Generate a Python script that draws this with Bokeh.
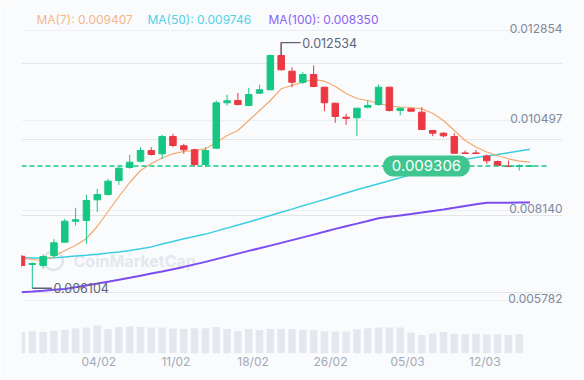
from bokeh.plotting import figure
from bokeh.models import Range1d, FixedTicker, Grid, Label, ColumnDataSource
from bokeh.core.properties import value
from bokeh.embed import file_html
from bokeh.resources import INLINE

# ---------------- data ----------------
open_ = [0.0069429, 0.0067255, 0.0066993, 0.0069613, 0.0073096, 0.0078596, 0.0078779, 0.0084200, 0.0085588, 0.0089255,
         0.0092660, 0.0094309, 0.0097112, 0.0096247, 0.0100779, 0.0098343, 0.0097295, 0.0093445, 0.0097714, 0.0109605,
         0.0110207, 0.0108898, 0.0112119, 0.0113009, 0.0121993, 0.0117881, 0.0114999, 0.0117016, 0.0113689, 0.0109500,
         0.0105833, 0.0105676, 0.0108452, 0.0109159, 0.0113689, 0.0107588, 0.0108033, 0.0107143, 0.0102350, 0.0101643,
         0.0100779, 0.0096483, 0.0096483, 0.0095672, 0.0094231, 0.0093053, 0.0092922, 0.0093000]
high = [0.0069796, 0.0067779, 0.0069874, 0.0073881, 0.0079224, 0.0082105, 0.0085510, 0.0087081, 0.0089700, 0.0092738,
        0.0095986, 0.0097976, 0.0097976, 0.0101224, 0.0101486, 0.0098867, 0.0097557, 0.0097976, 0.0110207, 0.0111700,
        0.0112224, 0.0113532, 0.0114318, 0.0122254, 0.0125340, 0.0118929, 0.0117618, 0.0119374, 0.0113800, 0.0109600,
        0.0106723, 0.0108190, 0.0110207, 0.0114397, 0.0113750, 0.0108300, 0.0108100, 0.0108452, 0.0102400, 0.0101905,
        0.0101643, 0.0097112, 0.0097295, 0.0096064, 0.0094493, 0.0094493, 0.0093445, 0.0093200]
low = [0.0066548, 0.0061040, 0.0066208, 0.0069167, 0.0072939, 0.0077470, 0.0072677, 0.0080953, 0.0085327, 0.0088129,
       0.0092319, 0.0094048, 0.0095803, 0.0094938, 0.0097976, 0.0096247, 0.0092922, 0.0092738, 0.0097557, 0.0108898,
       0.0108898, 0.0108715, 0.0111962, 0.0112900, 0.0118064, 0.0113689, 0.0114580, 0.0113689, 0.0107404, 0.0104367,
       0.0103843, 0.0100857, 0.0108190, 0.0108820, 0.0107326, 0.0106334, 0.0107326, 0.0102550, 0.0100857, 0.0100597,
       0.0096247, 0.0096247, 0.0096247, 0.0093577, 0.0092922, 0.0092738, 0.0091874, 0.0092900]
close = [0.0066993, 0.0067517, 0.0069351, 0.0072939, 0.0078596, 0.0078962, 0.0084017, 0.0085588, 0.0089072, 0.0092476,
         0.0094048, 0.0097112, 0.0096064, 0.0100779, 0.0098422, 0.0097295, 0.0093445, 0.0097112, 0.0109605, 0.0110129,
         0.0109159, 0.0111778, 0.0113009, 0.0121993, 0.0118247, 0.0114999, 0.0117016, 0.0113874, 0.0109605, 0.0106017,
         0.0105493, 0.0108190, 0.0108898, 0.0113689, 0.0107588, 0.0108190, 0.0107404, 0.0102612, 0.0101643, 0.0100962,
         0.0096405, 0.0096326, 0.0096326, 0.0094415, 0.0093184, 0.0092922, 0.0093105, 0.0093060]
ma7 = [0.0069010, 0.0068565, 0.0068303, 0.0069351, 0.0070922, 0.0072231, 0.0074065, 0.0077208, 0.0081136, 0.0085065,
       0.0088731, 0.0091874, 0.0093707, 0.0095148, 0.0096248, 0.0096850, 0.0097112, 0.0097557, 0.0099207, 0.0101040,
       0.0102350, 0.0104969, 0.0107588, 0.0110207, 0.0113271, 0.0114135, 0.0115000, 0.0115707, 0.0115262, 0.0113874,
       0.0112040, 0.0110731, 0.0110207, 0.0109421, 0.0108767, 0.0108505, 0.0108374, 0.0108033, 0.0106881, 0.0104969,
       0.0102350, 0.0099731, 0.0098029, 0.0096719, 0.0095802, 0.0094938, 0.0094310, 0.0094070]
ma50 = [0.0069010, 0.0068958, 0.0068932, 0.0069036, 0.0069220, 0.0069455, 0.0069691, 0.0069953, 0.0070241, 0.0070555,
        0.0070948, 0.0071393, 0.0071865, 0.0072598, 0.0073305, 0.0074012, 0.0074562, 0.0075217, 0.0076003, 0.0076789,
        0.0077600, 0.0078386, 0.0079224, 0.0080088, 0.0080927, 0.0081765, 0.0082629, 0.0083467, 0.0084279, 0.0085117,
        0.0085981, 0.0086819, 0.0087605, 0.0088391, 0.0089203, 0.0089988, 0.0090800, 0.0091612, 0.0092424, 0.0093236,
        0.0093995, 0.0094755, 0.0095253, 0.0095672, 0.0096091, 0.0096536, 0.0096955, 0.0097460]
ma100 = [0.0060001, 0.0060184, 0.0060394, 0.0060656, 0.0060865, 0.0061284, 0.0061782, 0.0062253, 0.0062751, 0.0063248,
         0.0063772, 0.0064322, 0.0064872, 0.0065422, 0.0066024, 0.0066627, 0.0067282, 0.0067936, 0.0068670, 0.0069377,
         0.0070110, 0.0070817, 0.0071498, 0.0072205, 0.0072912, 0.0073646, 0.0074353, 0.0075086, 0.0075820, 0.0076579,
         0.0077286, 0.0077967, 0.0078648, 0.0079355, 0.0079748, 0.0080115, 0.0080455, 0.0080848, 0.0081267, 0.0081660,
         0.0082105, 0.0082577, 0.0083048, 0.0083415, 0.0083415, 0.0083441, 0.0083467, 0.0083500]
volume = [58, 60, 58, 61, 63, 68, 70, 75, 66, 71, 73, 71, 70, 70, 67, 66, 68, 68, 71, 66, 60, 66, 63, 66,
          66, 66, 63, 63, 60, 59, 59, 65, 68, 70, 70, 70, 56, 50, 54, 58, 53, 52, 53, 51, 51, 50, 52]
price_ticks = [0.012854, 0.010497, 0.008140, 0.005782]
date_labels = ["04/02", "11/02", "18/02", "26/02", "05/03", "12/03"]
date_ticks = [7.14, 14.27, 21.4, 28.56, 35.68, 42.82]

# ---------------- layout / styling ----------------
BG = "#fafbfd"
GREEN = "#16c784"
RED = "#ea3943"
FONT = "Inter"
W, H = 584, 380
LEFT, RIGHT, TOP, BOTTOM = 21, 22, 0, 27
FRAME_W, FRAME_H = W - LEFT - RIGHT, H - TOP - BOTTOM
X_START, X_END = 0, 50
Y_START, Y_END = 0.0043946, 0.0136397
VOL_END = 948


def sx(px):   # screen x (from figure left) -> data x
    return X_START + (px - LEFT) * (X_END - X_START) / FRAME_W


def sy(py):   # screen y (from figure top) -> data y
    return Y_END - (py - TOP) * (Y_END - Y_START) / FRAME_H


idx = list(range(len(close)))
colors = [GREEN if c >= o else RED for o, c in zip(open_, close)]
src = ColumnDataSource(dict(
    x=idx, open=open_, close=close, high=high, low=low,
    top=[max(o, c) for o, c in zip(open_, close)],
    bottom=[min(o, c) for o, c in zip(open_, close)],
    color=colors, ma7=ma7, ma50=ma50, ma100=ma100))

p = figure(width=W, height=H, output_backend="svg", toolbar_location=None,
           x_range=Range1d(X_START, X_END), y_range=Range1d(Y_START, Y_END),
           y_axis_location=None, min_border_left=LEFT, min_border_right=RIGHT,
           min_border_top=TOP, min_border_bottom=BOTTOM,
           background_fill_color=BG, border_fill_color=BG, outline_line_color=None)
p.extra_y_ranges = {"vol": Range1d(0, VOL_END)}

p.xgrid.visible = False
p.add_layout(Grid(dimension=1, ticker=FixedTicker(ticks=price_ticks),
                  grid_line_color="#eceff3", grid_line_width=1))

# x axis with dates
ax = p.xaxis[0]
ax.ticker = FixedTicker(ticks=date_ticks)
ax.major_label_overrides = {t: l for t, l in zip(date_ticks, date_labels)}
ax.axis_line_color = None
ax.major_tick_line_color = None
ax.minor_tick_line_color = None
ax.major_tick_out = 0
ax.major_tick_in = 0
ax.major_label_standoff = 0
ax.major_label_text_font = FONT
ax.major_label_text_font_size = "12px"
ax.major_label_text_color = "#a3a9b5"

# watermark
p.text(x=[sx(73)], y=[sy(260)], text=["CoinMarketCap"], text_align="left", text_baseline="middle",
       text_font=value(FONT), text_font_size="16px", text_font_style="bold",
       text_color="#e1e5eb", text_alpha=0.9)
p.scatter(x=[sx(53)], y=[sy(260)], size=19, marker="circle", fill_alpha=0,
          line_color="#e1e5eb", line_width=2.5)

# volume
p.vbar(x=idx[:len(volume)], top=volume, bottom=0, width=0.69, y_range_name="vol",
       fill_color="#e4e8ee", line_color=None)

# MA lines
p.line("x", "ma100", source=src, line_color="#7b4cf0", line_width=2)
p.line("x", "ma50", source=src, line_color="#3ccfe2", line_width=1.5)
p.line("x", "ma7", source=src, line_color="#f3a96a", line_width=1.2)

# candles
p.segment(x0="x", x1="x", y0="low", y1="high", source=src, line_color="color", line_width=1)
p.vbar(x="x", top="top", bottom="bottom", width=0.6, source=src,
       fill_color="color", line_color="color", line_width=1)

# current price dashed line
last = close[-1]
p.segment(x0=[X_START], x1=[sx(547)], y0=[last], y1=[last],
          line_color=GREEN, line_width=1.6, line_dash="5 3")

# high / low annotations
hi_i = max(idx, key=lambda i: high[i])
lo_i = min(idx, key=lambda i: low[i])
CONN = "#5b6577"
p.line(x=[hi_i, hi_i, hi_i + 1.8], y=[open_[hi_i], high[hi_i], high[hi_i]], line_color=CONN, line_width=1.3)
p.text(x=[hi_i + 1.95], y=[high[hi_i]], text=[f"{high[hi_i]:.6f}"], text_align="left",
       text_baseline="middle", text_font=value(FONT), text_font_size="12.5px", text_color=CONN)
p.line(x=[lo_i, lo_i + 1.8], y=[low[lo_i], low[lo_i]], line_color=CONN, line_width=1.3)
p.text(x=[lo_i + 1.95], y=[low[lo_i]], text=[f"{low[lo_i]:.6f}"], text_align="left",
       text_baseline="middle", text_font=value(FONT), text_font_size="12.5px", text_color=CONN)

# right price labels (above their grid lines)
p.text(x=[X_END] * len(price_ticks), y=price_ticks, text=[f"{t:.6f}" for t in price_ticks],
       text_align="right", text_baseline="alphabetic", y_offset=-2,
       text_font=value(FONT), text_font_size="12px", text_color="#7f899b")

# current price badge
p.add_layout(Label(x=sx(426), y=last, text=f"{last:.6f}", text_align="center", text_baseline="middle",
                   text_font=FONT, text_font_size="15px", text_color="white",
                   background_fill_color="#3fc590", background_fill_alpha=1.0,
                   border_radius=14, padding=dict(left=9, right=9, top=5, bottom=5)))

# legend
for px, txt, col in [(36, f"MA(7): {ma7[-1]:.6f}", "#f2b888"),
                     (147, f"MA(50): {ma50[-1]:.6f}", "#4fd3e6"),
                     (268, f"MA(100): {ma100[-1]:.6f}", "#8a62f2")]:
    p.text(x=[sx(px)], y=[sy(18.7)], text=[txt], text_align="left", text_baseline="middle",
           text_font=value(FONT), text_font_size="12px", text_color=col)

open("out.html", "w").write(file_html(p, INLINE))
